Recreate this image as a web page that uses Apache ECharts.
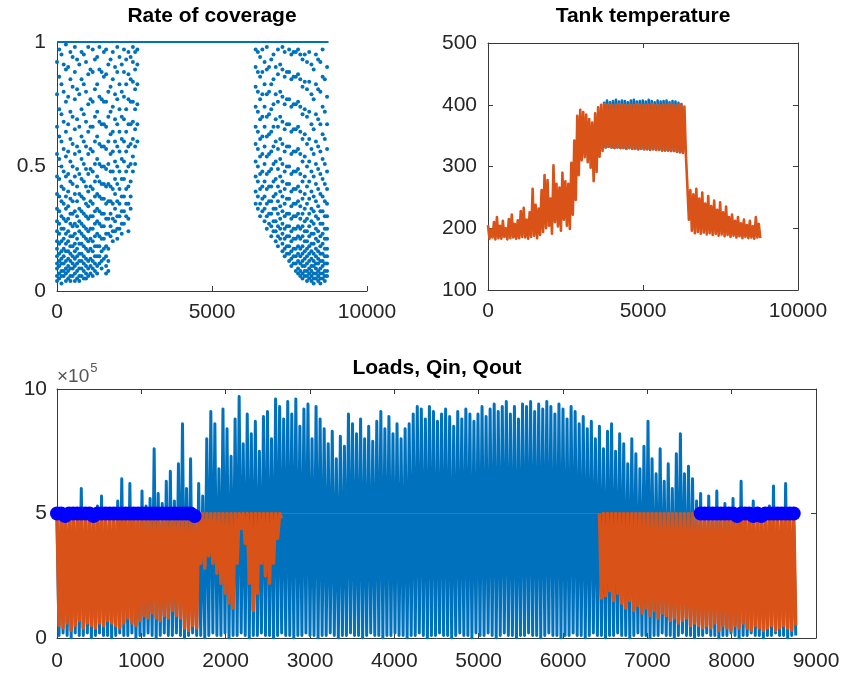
<!DOCTYPE html>
<html>
<head>
<meta charset="utf-8">
<script src="https://cdn.jsdelivr.net/npm/echarts/dist/echarts.min.js"></script>
<style>
html,body{margin:0;padding:0;background:#ffffff;}
#chart{width:846px;height:683px;}
</style>
</head>
<body>
<div id="chart"></div>
<script>
// ---------- Rate of coverage (hourly, one column of readings every 72 h) ----------
const covStep = 72;
const covSpringStart = 0;
const covSpring = [
  [4,6,9,11,14,17,20,24,28,33,39,46,55,66,79,92],
  [5,7,10,12,15,19,23,27,32,38,45,53,62,73,86,97],
  [3,6,8,11,13,16,20,25,30,36,42,50,60,71,83,95],
  [6,8,11,14,17,21,25,29,35,41,48,57,68,80,91],
  [4,7,9,12,16,19,23,28,33,38,46,54,64,76,89,99],
  [5,8,10,13,16,20,24,29,34,40,47,56,67,78,90],
  [4,6,9,12,15,18,22,27,31,37,44,52,61,72,85,96],
  [6,9,11,14,18,22,26,31,36,43,50,59,70,82,94],
  [4,7,10,13,16,19,23,27,32,39,46,55,65,77,88,98],
  [5,8,11,14,17,21,26,30,36,42,49,58,69,81,93],
  [4,6,9,12,15,19,24,28,33,39,47,56,66,79,91],
  [6,9,12,15,19,23,27,32,38,45,53,62,73,85,96],
  [5,8,11,14,18,22,26,31,37,44,51,60,71,83,95],
  [5,7,10,13,17,21,25,30,35,42,49,58,68,80,92],
  [6,9,12,16,20,24,29,34,40,47,55,64,75,87,98],
  [7,10,13,17,21,25,30,36,42,49,57,66,77,89],
  [6,9,12,16,20,25,30,35,41,48,56,66,76,88,97],
  [8,11,14,18,22,27,32,38,44,51,60,70,81,93],
  [7,10,14,18,23,28,33,39,46,53,62,72,83,94],
  [11,14,18,22,27,32,38,44,51,59,68,78,89,98],
  [9,12,16,21,26,31,37,43,50,58,67,77,88],
  [13,17,21,26,31,37,43,50,58,67,76,86,96],
  [7,10,14,18,23,29,35,42,49,57,66,76,87,97],
  [8,12,17,23,29,36,43,51,60,70,80,91],
  [22,26,31,36,42,48,55,63,72,82,93],
  [20,24,29,35,41,48,56,64,74,85,96],
  [24,28,33,39,45,52,60,69,79,90],
  [21,25,30,36,43,50,58,67,77,88,98],
  [25,30,35,41,48,56,64,73,83,94],
  [23,27,32,38,45,53,61,70,80,91],
  [27,32,38,45,52,60,69,78,88,97],
  [30,35,41,48,56,64,73,83,93],
  [24,29,35,42,50,58,67,77,87,96],
  [33,38,44,51,59,67,76,85,94],
  [48,54,61,68,76,84,92,98],
  [51,58,65,73,81,89,96],
  [60,67,75,83,91,97]
];
const covAutumnStart = 6408;
const covAutumn = [
  [35,40,46,52,59,66,74,82,90,97],
  [33,38,44,50,57,64,72,80,88,96],
  [30,35,41,47,54,61,69,77,86,94],
  [32,37,42,48,55,62,70,79,88,97],
  [28,33,38,44,51,58,66,74,83,92],
  [25,30,35,41,47,54,62,70,79,89,98],
  [27,31,36,42,48,55,63,71,80,90],
  [22,26,31,36,42,49,56,64,73,83,93],
  [24,28,33,38,44,51,58,66,75,85,95],
  [20,24,28,33,39,45,52,60,69,79,90],
  [18,22,26,31,36,42,49,57,66,76,87,97],
  [21,25,29,34,40,46,53,61,70,80,91],
  [16,19,23,27,32,38,44,51,59,68,78,89,98],
  [14,17,21,25,30,35,41,48,56,65,75,86,96],
  [15,18,22,26,31,37,43,50,58,67,77,88],
  [12,15,18,22,26,31,37,43,50,58,67,77,88,97],
  [10,13,16,20,24,29,34,40,47,55,64,74,85,95],
  [11,14,17,21,25,30,35,41,48,56,65,75,86,96],
  [8,11,14,17,21,25,30,35,41,48,56,65,75,86,96],
  [7,9,12,15,18,22,26,31,36,42,49,57,66,76,87,97],
  [6,8,11,14,17,21,25,29,34,40,47,55,64,74,85,95],
  [5,7,10,12,15,18,22,26,31,37,44,52,61,71,82,93],
  [6,8,10,13,16,20,24,28,33,39,46,54,63,73,84,95],
  [4,6,8,11,14,17,20,24,29,35,42,50,59,70,81,92],
  [5,7,9,12,15,18,22,26,31,37,44,52,61,72,84,96],
  [4,6,8,10,13,16,19,23,28,33,40,48,57,67,79,91],
  [3,5,7,10,12,15,19,23,27,32,38,46,55,65,77,89],
  [5,7,9,11,14,17,21,25,30,36,43,51,60,71,83,95],
  [4,6,8,11,13,16,20,24,29,34,41,49,58,69,81,93],
  [3,5,7,9,12,15,18,22,27,32,39,47,56,67,80,92],
  [5,7,10,12,15,19,23,27,32,38,45,53,63,74,86,97],
  [4,6,8,11,14,17,21,25,30,36,43,51,61,72,85],
  [6,8,11,14,17,21,25,30,35,41,48,57,67,78,90]
];
// hours during which the coverage stays at 100 %
const covFullSpan = [0, 8760];

// ---------- Tank temperature (one peak / trough pair every 96 h) ----------
const tankStep = 96;
const tankHi = [
  205,198,210,218,204,212,200,215,222,207,
  213,228,233,214,226,264,238,232,262,286,
  278,248,302,272,266,290,276,272,306,342,
  382,392,388,384,377,371,386,396,400,
  401,400,400,399,400,401,400,400,399,400,
  400,401,400,399,400,400,401,400,400,399,
  400,400,401,400,399,400,400,397,
  268,262,255,264,248,258,240,252,236,245,
  230,242,226,235,218,222,212,218,208,214,
  205,212,203,218,207
];
const tankLo = [
  183,185,182,184,183,186,182,184,185,183,
  184,186,185,183,186,
  188,184,189,194,200,204,191,210,203,196,
  214,204,199,222,246,286,310,315,307,298,
  276,291,316,325,
  331,332,331,330,331,330,330,329,330,329,
  329,328,329,328,328,327,328,327,327,326,
  326,326,325,325,324,323,322,318,
  214,196,192,194,191,193,190,192,189,191,
  188,190,187,189,186,188,185,187,184,186,
  184,185,183,185,184
];
// second temperature trace, peaking slightly above the first in summer
const tankBlueStart = 3744;
const tankBlueHi = [
  405,407,404,406,408,405,407,406,404,407,
  408,405,406,407,405,408,406,404,407,405,
  406,407,404,406,405,403,401
];

// ---------- Loads, Qin, Qout (units of 1e4, one peak / trough pair every 48 h) ----------
const loadStep = 48;
const loadsPeak = [
  48,42,50,45,52,47,60,44,50,48,
  53,57,46,51,49,55,64,50,62,52,
  48,59,53,56,76,58,54,63,67,55,
  70,86,60,72,50,62,57,80,91,86,
  68,92,84,73,88,97,78,90,82,87,
  75,89,91,80,96,93,88,95,90,96,
  85,92,94,80,93,88,84,78,83,72,
  81,77,90,86,82,88,80,85,79,87,
  91,84,89,82,86,80,84,86,90,93,
  92,88,93,91,87,90,92,89,85,91,
  88,92,90,87,90,93,89,92,94,91,
  93,95,90,93,88,94,93,95,91,94,
  92,95,93,90,94,92,88,93,91,86,
  89,84,87,80,85,76,83,86,75,82,
  78,70,80,74,68,77,87,72,66,76,
  63,70,60,74,82,66,69,64,55,58,
  49,57,52,59,48,54,47,56,50,63,
  52,48,55,45,51,47,53,61,46,50,
  62,49,45
];
const loadsLow = [
  1,2,1,0,2,1,1,2,0,1,
  2,1,1,0,1,2,1,1,2,0,
  1,1,2,1,0,1,2,1,1,2,
  1,0,1,2,1,1,0,1,2,1,
  1,2,0,1,1,2,1,0,1,1,
  2,1,1,0,1,2,1,1,0,1,
  1,2,1,1,0,1,1,2,1,0,
  1,1,2,1,1,0,1,2,1,1,
  0,1,1,2,1,1,0,1,1,2,
  1,0,1,1,2,1,1,0,1,2,
  1,1,0,2,1,1,2,1,0,1,
  2,1,1,0,1,1,2,1,1,0,
  1,2,1,1,0,1,1,2,1,1,
  0,1,2,1,1,0,1,1,2,1,
  1,0,1,2,1,1,0,1,1,2,
  1,1,0,1,2,1,1,0,1,1,
  2,1,1,0,1,1,2,1,0,1,
  1,2,1,1,0,1,1,2,1,1,
  0,1,1
];
// storage capacity (Qin is capped here)
const qCap = 50;
const qCapSpan = [0, 8760];
// Qin troughs in spring (from hour 0) and autumn (from hour 6432); capped in between
const qinSpringStart = 0;
const qinSpring = [
  5,4,6,3,5,7,4,6,5,4,
  6,5,7,6,5,4,6,8,6,5,
  7,9,8,10,8,7,9,8,11,9,
  8,4,3,5,4,30,28,33,30,26,
  22,18,14,12,30,44,38,22,11,18,
  30,25,22,30,40,48
];
const qinAutumnStart = 6432;
const qinAutumn = [
  16,17,19,15,18,14,
  12,15,11,13,10,12,9,11,8,10,
  9,7,8,6,7,8,5,6,5,4,
  5,4,6,3,5,4,3,5,4,6,
  4,3,5,4,3,4,5,3,4,5,
  4,3,5
];
// Qout markers
const qoutSpringStart = 0;
const qoutSpring = [
  50,50,49,50,50,50,50,50,50,49,
  50,50,50,50,50,50,50,50,50,50,
  50,50,50,50,50,50,50,50,50,50,
  50,50,50,50,49
];
const qoutAutumnStart = 7632;
const qoutAutumn = [
  50,50,50,50,50,50,50,50,50,49,
  50,50,50,49,50,49,50,50,50,50,
  50,50,50,50
];

// ---------- build the series data ----------
function columnsToPoints(start, cols) {
  const pts = [];
  cols.forEach((col, i) => col.forEach(v => pts.push([start + covStep * i, v / 100])));
  return pts;
}
const covPoints = columnsToPoints(covSpringStart, covSpring)
  .concat(columnsToPoints(covAutumnStart, covAutumn));

function zigzag(start, step, hi, lo, scale) {
  const pts = [];
  for (let i = 0; i < lo.length; i++) {
    const t = start + step * i;
    pts.push([t, (Array.isArray(hi) ? hi[i] : hi) * scale]);
    pts.push([t + step / 2, lo[i] * scale]);
  }
  return pts;
}
const blueLoOffset = (tankBlueStart / tankStep);
const tankBluePts = zigzag(tankBlueStart, tankStep, tankBlueHi,
  tankLo.slice(blueLoOffset, blueLoOffset + tankBlueHi.length), 1);
const tankPts = zigzag(0, tankStep, tankHi, tankLo, 1);

const loadsPts = zigzag(0, loadStep, loadsPeak, loadsLow, 1e4);

// Qin swings below the cap in spring and autumn (break in between)
const qinPts = zigzag(qinSpringStart, loadStep, qCap, qinSpring, 1e4)
  .concat([[null, null]])
  .concat(zigzag(qinAutumnStart, loadStep, qCap, qinAutumn, 1e4));
const qCapPts = qCapSpan.map(t => [t, qCap * 1e4]);

const qoutPts = qoutSpring.map((v, i) => [qoutSpringStart + loadStep * i, v * 1e4])
  .concat(qoutAutumn.map((v, i) => [qoutAutumnStart + loadStep * i, v * 1e4]));

// ---------- styling ----------
const FONT = '"Liberation Sans", Arial, Helvetica, sans-serif';
const INK = '#262626';
const AXIS = '#3a3a3a';
const BLUE = '#0072BD';
const ORANGE = '#D95319';
const plain = v => String(v);

function xAx(grid, min, max, interval, opts) {
  return Object.assign({
    type: 'value', gridIndex: grid, min: min, max: max, interval: interval,
    position: 'bottom',
    axisLine: { show: true, onZero: false, lineStyle: { color: AXIS, width: 1 } },
    axisTick: { show: true, inside: true, length: 5, lineStyle: { color: AXIS } },
    axisLabel: { show: true, color: INK, fontSize: 21, fontFamily: FONT, margin: 11,
                 showMinLabel: true, showMaxLabel: true, formatter: plain },
    splitLine: { show: false }
  }, opts || {});
}
function yAx(grid, min, max, interval, opts) {
  return Object.assign({
    type: 'value', gridIndex: grid, min: min, max: max, interval: interval,
    position: 'left',
    axisLine: { show: true, onZero: false, lineStyle: { color: AXIS, width: 1 } },
    axisTick: { show: true, inside: true, length: 5, lineStyle: { color: AXIS } },
    axisLabel: { show: true, color: INK, fontSize: 21, fontFamily: FONT, margin: 11,
                 showMinLabel: true, showMaxLabel: true, formatter: plain },
    splitLine: { show: false }
  }, opts || {});
}
const noLabel = { show: false };

const titleStyle = { color: '#000', fontSize: 21, fontWeight: 'bold', fontFamily: FONT };

const option = {
  animation: false,
  backgroundColor: '#ffffff',
  title: [
    { text: 'Rate of coverage', left: 212, top: 6, textAlign: 'center', textStyle: titleStyle, padding: 0 },
    { text: 'Tank temperature', left: 643, top: 6, textAlign: 'center', textStyle: titleStyle, padding: 0 },
    { text: 'Loads, Qin, Qout', left: 437, top: 358, textAlign: 'center', textStyle: titleStyle, padding: 0 }
  ],
  grid: [
    { left: 57, top: 42, width: 310, height: 249 },
    { left: 488, top: 43, width: 310, height: 247 },
    { left: 57, top: 389, width: 759, height: 249 }
  ],
  xAxis: [
    xAx(0, 0, 10000, 5000),
    xAx(1, 0, 10000, 5000),
    xAx(1, 0, 10000, 5000, { position: 'top', axisLabel: noLabel }),
    xAx(2, 0, 9000, 1000, { axisLabel: { show: true, color: INK, fontSize: 21, fontFamily: FONT, margin: 13, showMinLabel: true, showMaxLabel: true, formatter: plain } }),
    xAx(2, 0, 9000, 1000, { position: 'top', axisLabel: noLabel })
  ],
  yAxis: [
    yAx(0, 0, 1, 0.5),
    yAx(1, 100, 500, 100),
    yAx(1, 100, 500, 100, { position: 'right', axisLabel: noLabel }),
    yAx(2, 0, 1000000, 500000, {
      axisLabel: { show: true, color: INK, fontSize: 21, fontFamily: FONT, margin: 10,
                   showMinLabel: true, showMaxLabel: true, formatter: v => String(v / 100000) },
      name: '{m|\u00d710}{e|5}',
      nameLocation: 'end',
      nameGap: 3,
      nameTextStyle: {
        align: 'left', verticalAlign: 'bottom', padding: [0, 0, 0, 0],
        rich: {
          m: { fontSize: 19, color: '#555', fontFamily: FONT, lineHeight: 24, verticalAlign: 'bottom' },
          e: { fontSize: 13, color: '#555', fontFamily: FONT, lineHeight: 24, verticalAlign: 'top', padding: [0, 0, 0, 1] }
        }
      }
    }),
    yAx(2, 0, 1000000, 500000, { position: 'right', axisLabel: noLabel })
  ],
  series: [
    {
      name: 'coverage full', type: 'line', xAxisIndex: 0, yAxisIndex: 0,
      data: covFullSpan.map(t => [t, 1]), symbol: 'none',
      lineStyle: { color: BLUE, width: 2 }, silent: true
    },
    {
      name: 'coverage', type: 'scatter', xAxisIndex: 0, yAxisIndex: 0,
      data: covPoints, symbol: 'circle', symbolSize: 4,
      itemStyle: { color: BLUE, opacity: 1 }, silent: true
    },
    {
      name: 'tank 1', type: 'line', xAxisIndex: 1, yAxisIndex: 1,
      data: tankBluePts, symbol: 'none',
      lineStyle: { color: BLUE, width: 2.6, join: 'round' }, silent: true
    },
    {
      name: 'tank 2', type: 'line', xAxisIndex: 1, yAxisIndex: 1,
      data: tankPts, symbol: 'none',
      lineStyle: { color: ORANGE, width: 2.6, join: 'round' }, silent: true
    },
    {
      name: 'Loads', type: 'line', xAxisIndex: 3, yAxisIndex: 3,
      data: loadsPts, symbol: 'none',
      lineStyle: { color: BLUE, width: 3, join: 'round' }, silent: true
    },
    {
      name: 'Qin cap', type: 'line', xAxisIndex: 3, yAxisIndex: 3,
      data: qCapPts, symbol: 'none',
      lineStyle: { color: '#B0562A', width: 1.2 }, silent: true
    },
    {
      name: 'Qin', type: 'line', xAxisIndex: 3, yAxisIndex: 3,
      data: qinPts, symbol: 'none', connectNulls: false,
      lineStyle: { color: ORANGE, width: 3.4, join: 'round' }, silent: true
    },
    {
      name: 'Qout', type: 'scatter', xAxisIndex: 3, yAxisIndex: 3, z: 5,
      data: qoutPts, symbol: 'circle', symbolSize: 14,
      itemStyle: { color: '#0000FF', opacity: 1 }, silent: true
    }
  ]
};

const chart = echarts.init(document.getElementById('chart'), null, { renderer: 'canvas' });
chart.setOption(option);
</script>
</body>
</html>
